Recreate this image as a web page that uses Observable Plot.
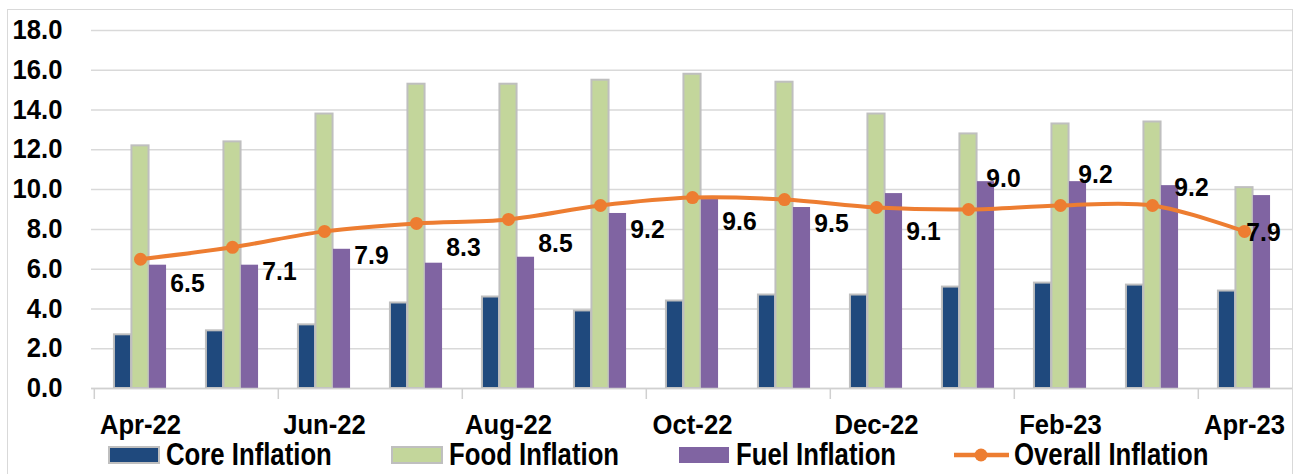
<!DOCTYPE html>
<html>
<head>
<meta charset="utf-8">
<script src="https://cdn.jsdelivr.net/npm/d3@7"></script>
<script src="https://cdn.jsdelivr.net/npm/@observablehq/plot@0.6"></script>
<style>
  html, body { margin: 0; padding: 0; background: #fff; }
  body { width: 1295px; height: 474px; overflow: hidden; position: relative;
         font-family: "Liberation Sans", Arial, sans-serif; }
  #frame { position: absolute; left: 7px; top: 9px; width: 1284px; height: 500px;
           border: 1.5px solid #d9d9d9; pointer-events: none; z-index: 2; }
  #chart { position: absolute; left: 0; top: 0; }
  #legend { position: absolute; left: 0; top: 0; z-index: 3; }
  .sw { position: absolute; }
  .lt { position: absolute; top: 439px; line-height: 31px; font-size: 31px; font-weight: bold;
        color: #000; white-space: nowrap; transform: scaleX(0.83); transform-origin: left center; }
</style>
</head>
<body>
<div id="frame"></div>
<div id="chart"></div>
<div id="legend"></div>
<script>
const months = ["Apr-22","May-22","Jun-22","Jul-22","Aug-22","Sep-22","Oct-22","Nov-22","Dec-22","Jan-23","Feb-23","Mar-23","Apr-23"];
const coreInflation = [2.7, 2.9, 3.2, 4.3, 4.6, 3.9, 4.4, 4.7, 4.7, 5.1, 5.3, 5.2, 4.9];
const foodInflation = [12.2, 12.4, 13.8, 15.3, 15.3, 15.5, 15.8, 15.4, 13.8, 12.8, 13.3, 13.4, 10.1];
const fuelInflation = [6.2, 6.2, 7.0, 6.3, 6.6, 8.8, 9.5, 9.1, 9.8, 10.4, 10.4, 10.2, 9.7];
const overallInflation = [6.5, 7.1, 7.9, 8.3, 8.5, 9.2, 9.6, 9.5, 9.1, 9.0, 9.2, 9.2, 7.9];
const yTicks = [0, 2, 4, 6, 8, 10, 12, 14, 16, 18];
const xTickLabels = ["Apr-22","Jun-22","Aug-22","Oct-22","Dec-22","Feb-23","Apr-23"];
const seriesNames = ["Core Inflation","Food Inflation","Fuel Inflation","Overall Inflation"];
const colors = ["#1F497D","#C3D69B","#8064A2","#ED7D31"];

const rows = months.map((m, i) => ({
  month: m, i,
  core: coreInflation[i], food: foodInflation[i], fuel: fuelInflation[i], overall: overallInflation[i]
}));

const W = 1295, H = 446, mL = 91, mR = 3, mT = 30, mB = 58;
const band = (W - mL - mR) / months.length;
const bw = 17.5;
const off = (band - 3 * bw) / 2;
const barInset = k => ({insetLeft: off + k * bw, insetRight: band - off - (k + 1) * bw});
const tickMonths = months.filter((m, i) => i % 2 === 0);

const belowRight = rows.filter(d => d.i <= 8);
const aboveRight = rows.filter(d => d.i === 9 || d.i === 10);
const aboveMar = rows.filter(d => d.i === 11);
const rightLast = rows.filter(d => d.i === 12);
const lbl = {x: "month", y: "overall", text: d => d.overall.toFixed(1), fontSize: 26, fontWeight: "bold", fill: "#000"};

const chart = Plot.plot({
  width: W, height: H,
  marginLeft: mL, marginRight: mR, marginTop: mT, marginBottom: mB,
  style: {fontFamily: "'Liberation Sans', Arial, sans-serif", background: "transparent", color: "#000", overflow: "visible"},
  x: {type: "band", domain: months, padding: 0},
  y: {domain: [0, 18]},
  marks: [
    Plot.gridY(yTicks, {stroke: "#d9d9d9", strokeOpacity: 1, strokeWidth: 1.5}),
    Plot.axisY({ticks: yTicks, tickSize: 0, tickPadding: 29, tickFormat: d3.format(".1f"), fontSize: 27, fontWeight: "bold", label: null}),
    Plot.axisX({ticks: tickMonths, tickSize: 11, fill: "none", dx: -band / 2, stroke: "#d0d0d0", strokeWidth: 1.5}),
    Plot.axisX({ticks: xTickLabels, tickSize: 0, tickPadding: 26, fontSize: 27, fontWeight: "bold", label: null}),
    Plot.barY(rows, {x: "month", y: "core", fill: colors[0], stroke: "#bfbfbf", strokeWidth: 2, ...barInset(0)}),
    Plot.barY(rows, {x: "month", y: "food", fill: colors[1], stroke: "#bfbfbf", strokeWidth: 2, ...barInset(1)}),
    Plot.barY(rows, {x: "month", y: "fuel", fill: colors[2], ...barInset(2)}),
    Plot.ruleY([0], {stroke: "#d0d0d0", strokeWidth: 1.5}),
    Plot.line(rows, {x: "month", y: "overall", curve: "catmull-rom", stroke: colors[3], strokeWidth: 4}),
    Plot.dot(rows, {x: "month", y: "overall", r: 6.5, fill: colors[3], stroke: "none"}),
    Plot.text(belowRight, {...lbl, dx: 47, dy: 24}),
    Plot.text(aboveRight, {...lbl, dx: 35, dy: -31}),
    Plot.text(aboveMar, {...lbl, dx: 39, dy: -18}),
    Plot.text(rightLast, {...lbl, dx: 19, dy: 1})
  ]
});
document.getElementById("chart").appendChild(chart);

// condense text glyphs horizontally (the reference uses a narrow bold face)
function condense(selector, sx) {
  chart.querySelectorAll(selector).forEach(t => {
    let tr = t.getAttribute("transform") || "";
    const x = t.getAttribute("x");
    if (x !== null && isFinite(+x)) {
      tr += ` translate(${+x},0)`;
      t.removeAttribute("x");
    }
    t.setAttribute("transform", `${tr} scale(${sx},1)`);
  });
}
condense('g[aria-label="y-axis tick label"] text', 0.95);
condense('g[aria-label="x-axis tick label"] text', 0.95);
condense('g[aria-label="text"] text', 0.95);

const legend = document.getElementById("legend");
const swLeft = [109, 392, 679, 953];
seriesNames.forEach((name, k) => {
  let sw;
  if (k < 3) {
    sw = document.createElement("div");
    sw.className = "sw";
    sw.style.cssText = `left:${swLeft[k]}px;top:447px;width:50px;height:16px;background:${colors[k]};` +
      (k < 2 ? "outline:2px solid #bfbfbf;outline-offset:-1px;" : "");
  } else {
    sw = document.createElement("div");
    sw.className = "sw";
    sw.style.cssText = `left:${swLeft[k]}px;top:445px;`;
    sw.innerHTML = `<svg width="57" height="20"><line x1="1" x2="56" y1="10" y2="10" stroke="${colors[3]}" stroke-width="4.5"/><circle cx="28" cy="10" r="6.5" fill="${colors[3]}"/></svg>`;
  }
  legend.appendChild(sw);
  const t = document.createElement("span");
  t.className = "lt";
  t.style.left = (swLeft[k] + (k < 3 ? 57 : 61)) + "px";
  t.textContent = name;
  legend.appendChild(t);
});
</script>
</body>
</html>
